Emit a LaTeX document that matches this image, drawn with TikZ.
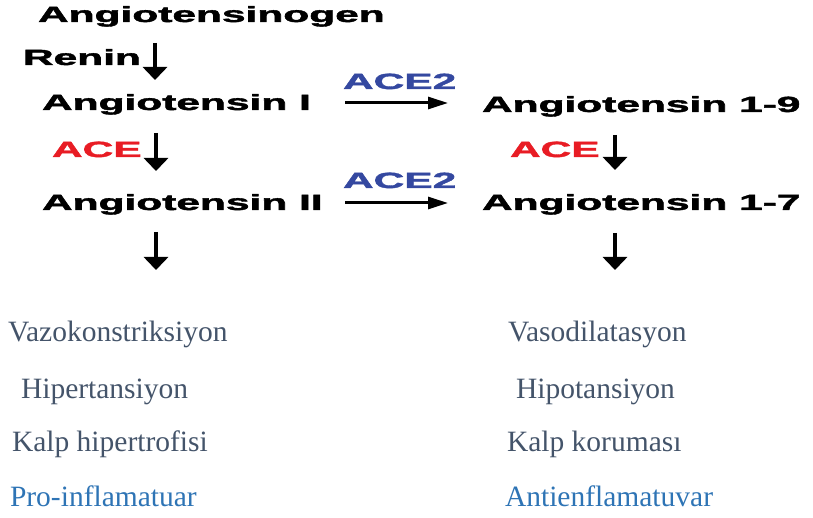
\documentclass[tikz,border=0pt]{standalone}
\usepackage{fontspec}
\usepackage{graphicx}
\usetikzlibrary{arrows.meta}
\newfontfamily\hdfont{Liberation Sans Bold}[FakeBold=1.6]
\newfontfamily\srfont{Liberation Serif}
\definecolor{acered}{RGB}{232,28,36}
\definecolor{aceblue}{RGB}{52,72,160}
\definecolor{txtgray}{RGB}{68,84,106}
\definecolor{txtblue}{RGB}{46,116,181}
\newcommand\hdtext[1]{\scalebox{1.93}[1]{\hdfont\fontsize{22bp}{26bp}\selectfont #1}}
\begin{document}
\begin{tikzpicture}[x=1bp,y=-1bp,
  hd/.style={anchor=base west, inner sep=0pt, outer sep=0pt},
  eff/.style={anchor=base west, inner sep=0pt, outer sep=0pt, text=txtgray,
    font=\srfont\fontsize{29.5bp}{33bp}\selectfont},
  effblue/.style={eff, text=txtblue},
  varrow/.style={line width=4.5bp, -{Triangle[width=24bp,length=13bp]}},
  harrow/.style={line width=3bp, -{Triangle[width=12bp,length=20bp]}}]
\useasboundingbox (0,0) rectangle (813,518);
% main cascade
\node[hd] (agen) at (38,22) {\hdtext{Angiotensinogen}};
\node[hd] (renin) at (23,65) {\hdtext{Renin}};
\node[hd] (ang1) at (42,110) {\hdtext{Angiotensin I}};
\node[hd, text=acered] (aceL) at (52,157) {\hdtext{ACE}};
\node[hd] (ang2) at (42,210) {\hdtext{Angiotensin II}};
\node[hd, text=aceblue] (ace2a) at (343,89) {\hdtext{ACE2}};
\node[hd] (ang19) at (482,112) {\hdtext{Angiotensin 1-9}};
\node[hd, text=acered] (aceR) at (510,157) {\hdtext{ACE}};
\node[hd, text=aceblue] (ace2b) at (343,188) {\hdtext{ACE2}};
\node[hd] (ang17) at (482,210) {\hdtext{Angiotensin 1-7}};
% arrow endpoints
\coordinate (r1) at (155,43);  \coordinate (r2) at (155,80);
\coordinate (a1) at (156,133); \coordinate (a2) at (156,171);
\coordinate (b1) at (156,232); \coordinate (b2) at (156,270);
\coordinate (c1) at (615,135); \coordinate (c2) at (615,170);
\coordinate (d1) at (615,233); \coordinate (d2) at (615,270);
\coordinate (h1) at (345,103); \coordinate (h2) at (448,103);
\coordinate (k1) at (345,203); \coordinate (k2) at (448,203);
\draw[varrow] (r1) -- (r2);
\draw[varrow] (a1) -- (a2);
\draw[varrow] (b1) -- (b2);
\draw[varrow] (c1) -- (c2);
\draw[varrow] (d1) -- (d2);
\draw[harrow] (h1) -- (h2);
\draw[harrow] (k1) -- (k2);
% effects
\node[eff] (vk) at (8,341.7) {Vazokonstriksiyon};
\node[eff] (ht) at (21,398) {Hipertansiyon};
\node[eff] (kh) at (12,451.7) {Kalp hipertrofisi};
\node[effblue] (pi) at (10,506.7) {Pro-inflamatuar};
\node[eff] (vd) at (508,341.7) {Vasodilatasyon};
\node[eff] (hp) at (516,398) {Hipotansiyon};
\node[eff] (kk) at (507,451.7) {Kalp koruması};
\node[effblue] (ai) at (505,506.7) {Antienflamatuvar};
\end{tikzpicture}
\end{document}
